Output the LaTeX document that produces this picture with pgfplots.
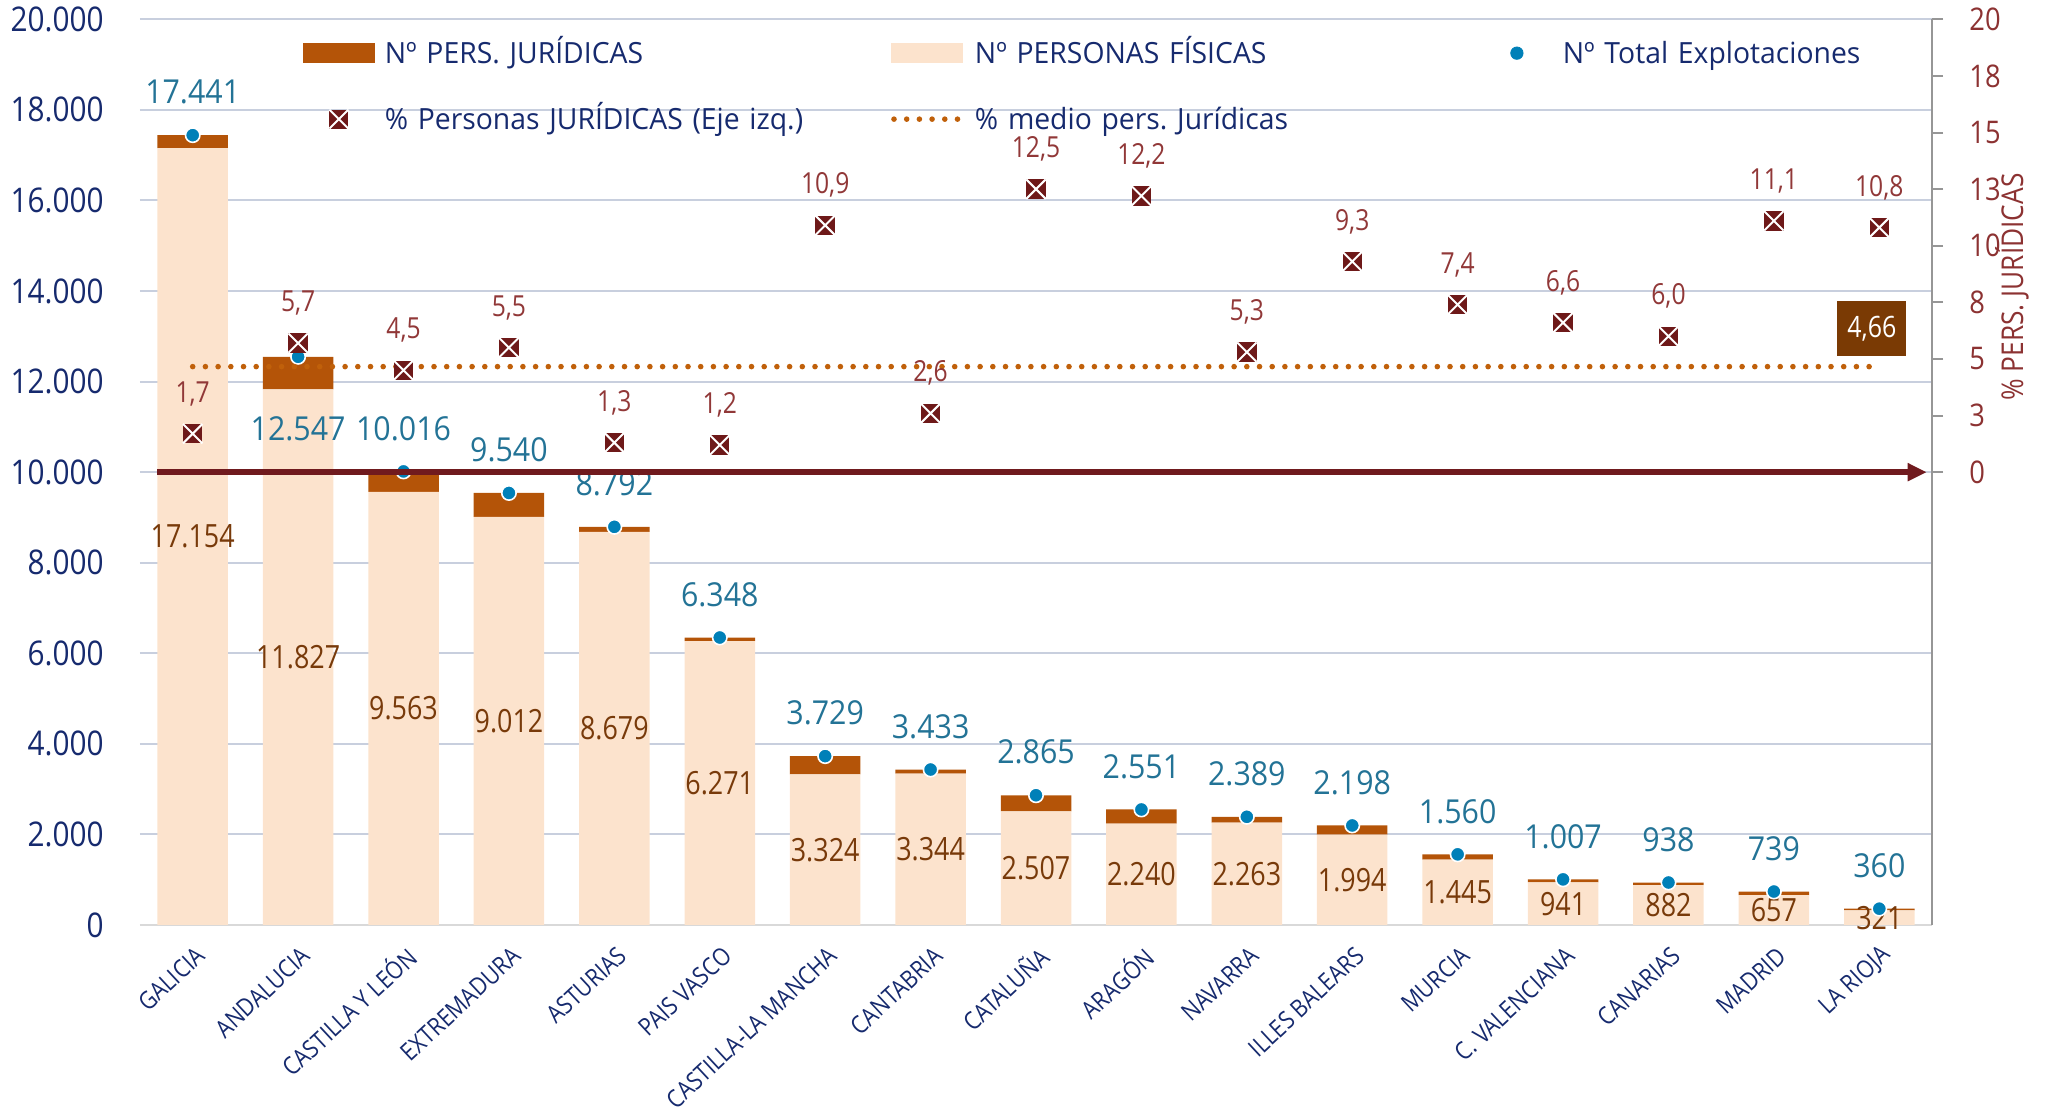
\documentclass[border=0pt]{standalone}
\usepackage{fontspec}
\setmainfont{Open Sans}
\newfontfamily\legf[FakeStretch=0.97]{Open Sans}
\newfontfamily\tickf[FakeStretch=0.875]{Open Sans}
\newfontfamily\totf[FakeStretch=0.92]{Open Sans}
\newfontfamily\fisf[FakeStretch=0.84]{Open Sans}
\newfontfamily\pctf[FakeStretch=0.85]{Open Sans}
\usepackage{pgfplots}
\pgfplotsset{compat=1.18}
\usepackage{pgfplotstable}
\usetikzlibrary{arrows.meta}

\definecolor{navy}{RGB}{22,42,110}
\definecolor{fiscol}{RGB}{252,227,205}
\definecolor{jurcol}{RGB}{180,84,8}
\definecolor{dotblue}{RGB}{0,128,184}
\definecolor{totlab}{RGB}{35,115,150}
\definecolor{fislab}{RGB}{120,58,10}
\definecolor{pctlab}{RGB}{145,56,56}
\definecolor{pctmark}{RGB}{110,25,25}
\definecolor{arrowcol}{RGB}{112,26,30}
\definecolor{avgcol}{RGB}{192,96,10}
\definecolor{boxcol}{RGB}{122,58,4}
\definecolor{gridcol}{RGB}{200,207,222}
\definecolor{axiscol}{RGB}{217,217,217}
\definecolor{raxis}{RGB}{150,150,150}
\definecolor{rtick}{RGB}{140,50,50}

\pgfdeclareplotmark{boxx}{%
  \pgfsetfillcolor{pctmark}%
  \pgfpathrectangle{\pgfqpoint{-\pgfplotmarksize}{-\pgfplotmarksize}}{\pgfqpoint{2\pgfplotmarksize}{2\pgfplotmarksize}}%
  \pgfusepathqfill
  \pgfsetstrokecolor{white}%
  \pgfsetlinewidth{1pt}%
  \pgfpathmoveto{\pgfqpoint{-\pgfplotmarksize}{-\pgfplotmarksize}}%
  \pgfpathlineto{\pgfqpoint{\pgfplotmarksize}{\pgfplotmarksize}}%
  \pgfpathmoveto{\pgfqpoint{-\pgfplotmarksize}{\pgfplotmarksize}}%
  \pgfpathlineto{\pgfqpoint{\pgfplotmarksize}{-\pgfplotmarksize}}%
  \pgfusepathqstroke
}

\pgfplotstableread{
x fis jur tot pct totoff
0 17154 287 17441 1.7 21.5
1 11827 720 12547 5.7 -36
2 9563 453 10016 4.5 21.5
3 9012 528 9540 5.5 21.5
4 8679 113 8792 1.3 21.5
5 6271 77 6348 1.2 21.5
6 3324 405 3729 10.9 21.5
7 3344 89 3433 2.6 21.5
8 2507 358 2865 12.5 21.5
9 2240 311 2551 12.2 21.5
10 2263 126 2389 5.3 21.5
11 1994 204 2198 9.3 21.5
12 1445 115 1560 7.4 21.5
13 941 66 1007 6.6 21.5
14 882 56 938 6.0 21.5
15 657 82 739 11.1 21.5
16 321 39 360 10.8 21.5
}\data

\pgfplotsset{base/.style={at={(0,0)}, anchor=south west, scale only axis,
  width=896pt, height=452.85pt, xmin=-0.5, xmax=16.5}}

\begin{document}
\frenchspacing
\begin{tikzpicture}
\useasboundingbox (-70pt,-93.5pt) rectangle (953.5pt,462.5pt);

% main axis: stacked bars
\begin{axis}[base,
  ymin=0, ymax=20000,
  ybar stacked, bar width=35.25pt,
  xtick={0,...,16},
  xticklabels={GALICIA,ANDALUCIA,CASTILLA Y LEÓN,EXTREMADURA,ASTURIAS,PAIS VASCO,CASTILLA-LA MANCHA,CANTABRIA,CATALUÑA,ARAGÓN,NAVARRA,ILLES BALEARS,MURCIA,C. VALENCIANA,CANARIAS,MADRID,LA RIOJA},
  ytick={0,2000,...,20000},
  scaled y ticks=false,
  ymajorgrids, grid style={gridcol, line width=1pt},
  axis x line*=bottom, axis y line*=left,
  x axis line style={-, draw=axiscol, line width=1pt},
  y axis line style={draw=none},
  major tick length=0pt,
  yticklabel style={font=\tickf\fontsize{17}{17}\selectfont, text=navy, inner sep=0pt, anchor=east, xshift=-18pt},
  xticklabel style={font=\tickf\fontsize{12.3}{12.3}\selectfont, text=navy, inner sep=0pt, xshift=4pt, yshift=-13.3pt, rotate=43, anchor=east},
  /pgf/number format/.cd, fixed, precision=0, 1000 sep={.}, assume math mode=true,
]
\addplot[fill=fiscol, draw=none] table[x=x, y=fis]{\data};
\addplot[fill=jurcol, draw=none] table[x=x, y=jur]{\data};
\end{axis}

% overlay: labels and dots on left scale
\begin{axis}[base, ymin=0, ymax=20000, hide axis, clip=false,
  /pgf/number format/.cd, fixed, precision=0, 1000 sep={.}, assume math mode=true]
\addplot[draw=none, mark=none,
  nodes near coords={\pgfmathprintnumber{\pgfplotspointmeta}},
  point meta=\thisrow{fis},
  nodes near coords style={anchor=center, font=\fisf\fontsize{16}{16}\selectfont, text=fislab}]
  table[x=x, y expr=\thisrow{fis}/2]{\data};
\addplot[only marks, mark=*, mark size=3.6pt,
  mark options={fill=dotblue, draw=white, line width=0.8pt},
  nodes near coords={\pgfmathprintnumber{\pgfplotspointmeta}},
  point meta=\thisrow{tot},
  visualization depends on={\thisrow{totoff} \as \myoff},
  nodes near coords style={anchor=center, yshift=\myoff pt, font=\totf\fontsize{16.5}{16.5}\selectfont, text=totlab}]
  table[x=x, y=tot]{\data};
\end{axis}

% right axis: percentages
\begin{axis}[base, ymin=-20, ymax=20, clip=false,
  axis x line=none, xtick=\empty,
  axis y line*=right,
  y axis line style={-, draw=raxis, line width=1pt},
  ytick={0,2.5,...,20},
  yticklabels={0,3,5,8,10,13,15,18,20},
  tick align=outside, major tick length=5.5pt,
  tick style={draw=raxis, line width=1pt},
  yticklabel style={font=\tickf\fontsize{15.6}{15.6}\selectfont, text=rtick, inner sep=0pt, anchor=west, xshift=13pt},
  legend columns=3,
  legend style={at={(axis description cs:0.09096,0.9784)}, anchor=north west,
    draw=none, fill=none, inner sep=0pt, outer sep=0pt,
    font=\legf\fontsize{14.6}{14.6}\selectfont, text=navy,
    row sep=17pt,
    nodes={inner sep=0pt, text height=12.5pt, text depth=3.5pt, text width=253pt, align=left},
    /tikz/every odd column/.append style={column sep=5pt}},
]
\addlegendimage{legend image code/.code={\fill[jurcol] (0pt,-3.89pt) rectangle (35.5pt,5.61pt);}}
\addlegendentry{Nº PERS. JURÍDICAS}
\addlegendimage{legend image code/.code={\fill[fiscol] (0pt,-3.89pt) rectangle (35.5pt,5.61pt);}}
\addlegendentry{Nº PERSONAS FÍSICAS}
\addlegendimage{legend image code/.code={\path (0pt,0pt) (35.5pt,0pt); \fill[dotblue] (17.75pt,0.86pt) circle (3.1pt);}}
\addlegendentry{Nº Total Explotaciones}
\addlegendimage{legend image code/.code={\path (0pt,0pt) (35.5pt,0pt); \begin{scope}\pgfplotmarksize=4.75pt\pgftransformshift{\pgfpoint{17.75pt}{0.86pt}}\pgfuseplotmark{boxx}\end{scope}}}
\addlegendentry{\% Personas JURÍDICAS (Eje izq.)}
\addlegendimage{legend image code/.code={\draw[avgcol, line width=2.8pt, line cap=round, dash pattern=on 0pt off 6.35pt] (1.4pt,0.86pt) -- (35.5pt,0.86pt);}}
\addlegendentry{\% medio pers. Jurídicas}

\addplot[forget plot, arrowcol, line width=2.75pt, -{Triangle[length=9.5pt, width=8.5pt]}]
  coordinates {(-0.335,0) (16.45,0)};
\addplot[forget plot, only marks, mark=boxx, mark size=4.85pt,
  nodes near coords={\pgfmathprintnumber[fixed, fixed zerofill, precision=1, use comma, assume math mode=true]{\pgfplotspointmeta}},
  point meta=\thisrow{pct},
  nodes near coords style={anchor=center, yshift=20pt, font=\pctf\fontsize{14.5}{14.5}\selectfont, text=pctlab}]
  table[x=x, y=pct]{\data};
\addplot[forget plot, avgcol, line width=2.8pt, line cap=round, dash pattern=on 0pt off 6.35pt]
  coordinates {(0,4.66) (16,4.66)};
\addplot[forget plot, draw=none, mark=none,
  nodes near coords={\pgfmathprintnumber[fixed, fixed zerofill, precision=2, use comma, assume math mode=true]{\pgfplotspointmeta}},
  point meta=explicit,
  nodes near coords style={anchor=center, fill=boxcol, text=white, minimum width=34.5pt, minimum height=27.5pt, inner sep=0pt, font=\pctf\fontsize{14.7}{14.7}\selectfont}]
  coordinates {(15.93,6.35) [4.66]};
\node[rotate=90, font=\tickf\fontsize{15}{15}\selectfont, text=rtick] at (rel axis cs:1.0446,0.7044) {\% PERS. JURÍDICAS};
\end{axis}
\end{tikzpicture}
\end{document}
